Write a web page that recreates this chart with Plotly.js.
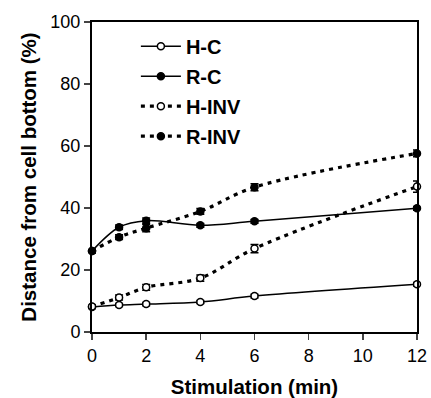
<!DOCTYPE html>
<html><head><meta charset="utf-8">
<script src="https://cdn.plot.ly/plotly-3.0.1.min.js"></script>
<style>body{margin:0;background:#fff}#chart{width:431px;height:398px}</style>
</head><body><div id="chart"></div>
<script>
const time = [0, 1, 2, 4, 6, 12];
const hc = [8.1, 8.7, 9.0, 9.7, 11.6, 15.4];
const hcErr = [0.5, 0.5, 0.5, 0.5, 0.6, 0.6];
const rc = [26.1, 33.8, 35.9, 34.4, 35.7, 39.9];
const rcErr = [0.6, 0.7, 0.9, 0.6, 0.6, 0.6];
const hinv = [8.2, 11.1, 14.4, 17.4, 26.9, 46.9];
const hinvErr = [0.4, 0.8, 0.9, 1.0, 1.3, 1.8];
const rinv = [26.1, 30.6, 33.5, 38.9, 46.7, 57.6];
const rinvErr = [0.5, 0.8, 1.2, 0.9, 1.1, 1.1];
const names = ['H-C', 'R-C', 'H-INV', 'R-INV'];

function tr(name, y, err, dashed, open) {
  return {
    x: time, y: y, name: name, type: 'scatter', mode: 'lines+markers',
    legendgroup: name, cliponaxis: false,
    line: {color: '#000', width: dashed ? 3.2 : 1.5, dash: dashed ? '4px,5px' : 'solid', shape: 'spline', smoothing: 1},
    marker: {symbol: 'circle', size: 7, color: open ? '#fff' : '#000', line: {color: '#000', width: 1.5}},
    error_y: {type: 'data', array: err, visible: true, color: '#000', thickness: 1.5, width: 4}
  };
}
const data = [
  tr(names[0], hc, hcErr, false, true),
  tr(names[1], rc, rcErr, false, false),
  tr(names[2], hinv, hinvErr, true, true),
  tr(names[3], rinv, rinvErr, true, false)
];
const font = 'Liberation Sans, Arial, sans-serif';
const layout = {
  width: 431, height: 398,
  margin: {l: 92, r: 14, t: 22, b: 66},
  paper_bgcolor: '#fff', plot_bgcolor: '#fff',
  font: {family: font, color: '#000', size: 18},
  showlegend: true,
  legend: {x: 0.135, y: 0.985, xanchor: 'left', yanchor: 'top', bgcolor: 'rgba(0,0,0,0)',
    font: {family: font, size: 20, weight: 'bold', color: '#000'}, tracegroupgap: 1, itemwidth: 40},
  xaxis: {range: [0, 12], dtick: 2, tick0: 0, ticks: 'outside', ticklen: 6, tickwidth: 1.5,
    showline: true, linewidth: 2, linecolor: '#000', mirror: true, showgrid: false, zeroline: false,
    tickfont: {size: 18}, title: {text: 'Stimulation (min)', font: {size: 20.5, weight: 'bold'}, standoff: 18}},
  yaxis: {range: [0, 100], dtick: 20, tick0: 0, ticks: 'outside', ticklen: 6, tickwidth: 1.5,
    showline: true, linewidth: 2, linecolor: '#000', mirror: true, showgrid: false, zeroline: false,
    tickfont: {size: 18}, title: {text: 'Distance from cell bottom (%)', font: {size: 20.5, weight: 'bold'}, standoff: 8}}
};
Plotly.newPlot('chart', data, layout, {displayModeBar: false, staticPlot: true});
</script></body></html>
